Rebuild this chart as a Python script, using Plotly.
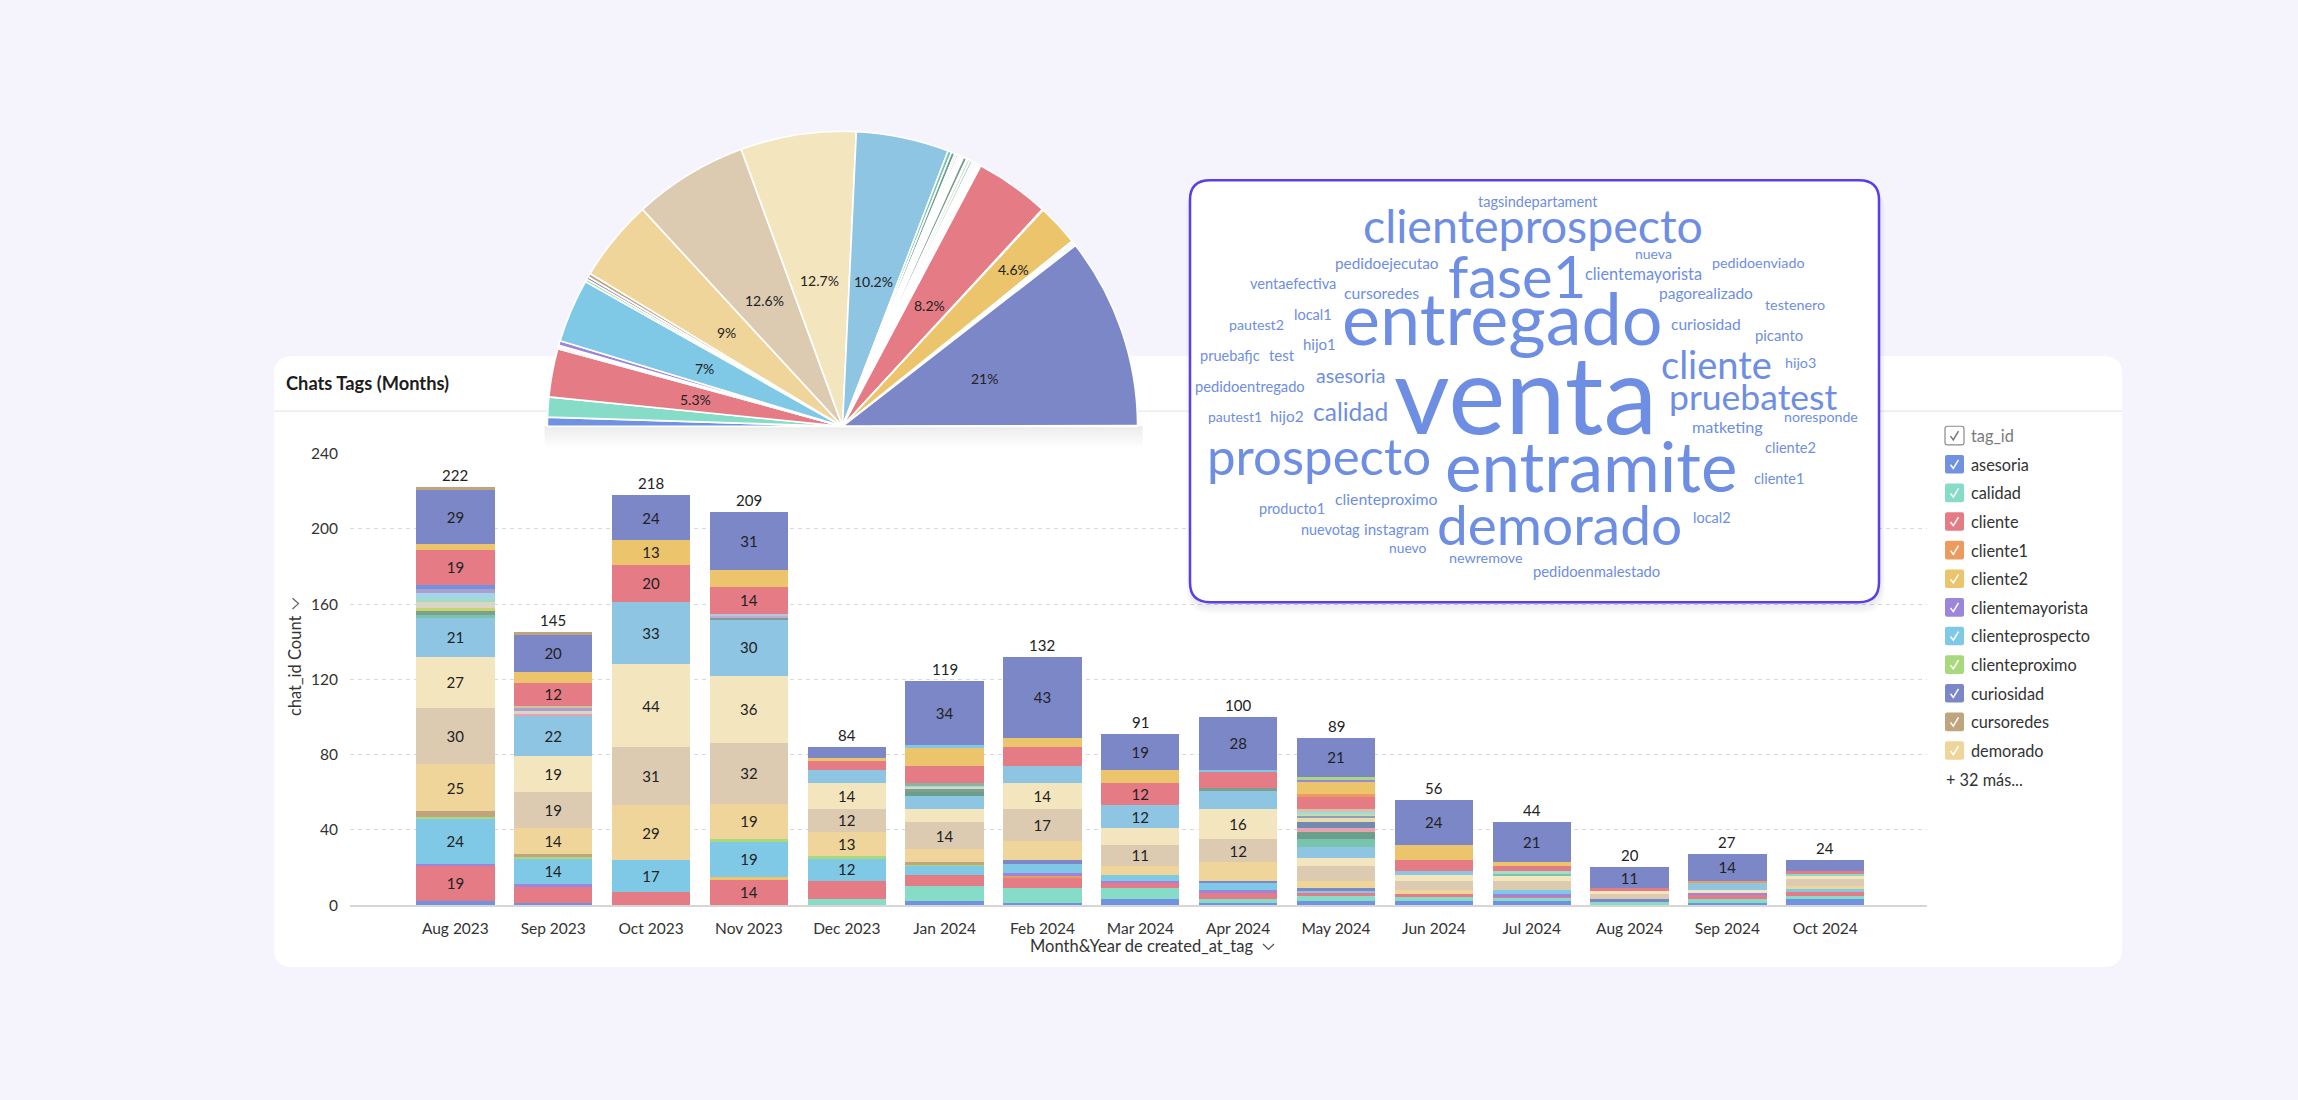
import math
import plotly.graph_objects as go

W, H = 2298, 1100
def X(px): return px / W
def Y(py): return 1 - py / H

FONT = "Lato, 'Open Sans', sans-serif"

# ---------------- DATA ----------------
months = ["Aug 2023", "Sep 2023", "Oct 2023", "Nov 2023", "Dec 2023", "Jan 2024", "Feb 2024",
          "Mar 2024", "Apr 2024", "May 2024", "Jun 2024", "Jul 2024", "Aug 2024", "Sep 2024", "Oct 2024"]

asesoria          = [2, 1, 0, 0, 0, 2, 1, 3, 1, 2, 2, 2, 0, 1, 3]
calidad           = [0, 0, 0, 0, 3, 8, 8, 6, 2, 3, 3, 2, 2, 2, 2]
cliente           = [19, 9, 7, 14, 10, 6, 6, 3, 4, 2, 1, 1, 0, 3, 2]
cliente1          = [0, 0, 0, 0, 0, 0, 1, 0, 0, 0, 0, 0, 0, 0, 0]
cliente2          = [0, 0, 0, 1, 0, 0, 0, 0, 0, 0, 0, 0, 0, 0, 0]
clientemayorista  = [1, 1, 0, 0, 0, 0, 1, 1, 1, 0, 0, 1, 0, 1, 0]
clienteprospecto  = [24, 14, 17, 19, 12, 5, 5, 3, 4, 1, 0, 2, 0, 0, 2]
clienteproximo    = [1, 1, 0, 1, 1, 1, 0, 0, 0, 0, 0, 0, 0, 0, 0]
curiosidad        = [0, 0, 0, 0, 0, 0, 2, 0, 1, 1, 0, 0, 1, 0, 0]
cursoredes        = [3, 1, 0, 0, 0, 1, 0, 0, 0, 0, 0, 0, 0, 0, 0]
demorado          = [25, 14, 29, 19, 13, 7, 10, 5, 10, 4, 2, 0, 0, 0, 1]
entramite         = [30, 19, 31, 32, 12, 14, 17, 11, 12, 8, 5, 5, 3, 0, 4]
entregado         = [27, 19, 44, 36, 14, 7, 14, 9, 16, 4, 3, 3, 2, 1, 2]
fase1             = [21, 22, 33, 30, 7, 7, 9, 12, 10, 6, 2, 0, 0, 4, 0]
hijo1             = [1, 0, 0, 0, 0, 0, 0, 0, 0, 4, 0, 1, 0, 0, 0]
hijo2             = [0, 0, 0, 0, 0, 2, 0, 0, 0, 4, 0, 0, 0, 0, 0]
hijo3             = [0, 1, 0, 0, 0, 0, 0, 0, 0, 2, 0, 0, 0, 0, 0]
instagram         = [0, 0, 0, 0, 0, 0, 0, 0, 0, 3, 0, 0, 0, 0, 0]
local1            = [0, 0, 0, 0, 0, 0, 0, 0, 0, 3, 0, 0, 0, 0, 0]
local2            = [0, 0, 0, 0, 0, 0, 0, 0, 0, 1, 0, 0, 0, 0, 0]
matketing         = [0, 0, 0, 0, 0, 0, 0, 0, 0, 1, 0, 0, 0, 0, 0]
newremove         = [0, 0, 0, 0, 0, 0, 0, 0, 0, 1, 0, 0, 0, 0, 0]
noresponde        = [0, 0, 0, 0, 0, 0, 0, 0, 0, 1, 0, 0, 0, 0, 0]
nueva             = [3, 0, 0, 1, 0, 2, 0, 0, 1, 0, 0, 0, 0, 0, 0]
nuevo             = [1, 0, 0, 0, 0, 0, 0, 0, 0, 0, 0, 0, 0, 0, 0]
nuevotag          = [3, 1, 0, 0, 0, 1, 0, 0, 0, 0, 0, 0, 0, 0, 0]
pagorealizado     = [2, 0, 0, 0, 0, 1, 0, 0, 0, 0, 0, 1, 0, 0, 0]
pautest1          = [3, 0, 0, 0, 0, 0, 0, 0, 0, 0, 0, 0, 0, 0, 0]
pautest2          = [2, 2, 0, 0, 0, 0, 0, 0, 0, 0, 0, 0, 0, 0, 0]
pedidoejecutao    = [0, 0, 0, 1, 0, 0, 0, 0, 0, 0, 0, 0, 0, 0, 0]
pedidoentregado   = [0, 0, 0, 0, 0, 1, 0, 0, 0, 0, 0, 0, 0, 0, 0]
pedidoenmalestado = [0, 1, 0, 0, 0, 0, 0, 0, 0, 0, 0, 0, 0, 0, 0]
pedidoenviado     = [0, 0, 0, 1, 0, 0, 0, 0, 0, 0, 0, 0, 0, 0, 0]
picanto           = [2, 0, 0, 0, 0, 0, 0, 0, 0, 0, 0, 0, 0, 0, 0]
producto1         = [0, 0, 0, 0, 0, 0, 0, 0, 0, 0, 0, 0, 0, 0, 1]
prospecto         = [19, 12, 20, 14, 5, 9, 10, 12, 9, 7, 6, 3, 1, 0, 1]
pruebafjc         = [0, 0, 0, 0, 0, 0, 0, 0, 0, 1, 0, 0, 0, 1, 0]
pruebatest        = [3, 6, 13, 9, 1, 10, 5, 7, 0, 7, 8, 2, 0, 0, 0]
tagsindepartament = [0, 0, 0, 0, 0, 0, 0, 0, 0, 1, 0, 0, 0, 0, 0]
test              = [0, 0, 0, 0, 0, 1, 0, 0, 1, 0, 0, 0, 0, 0, 0]
testenero         = [0, 0, 0, 0, 0, 0, 0, 0, 0, 1, 0, 0, 0, 0, 0]
venta             = [29, 20, 24, 31, 6, 34, 43, 19, 28, 21, 24, 21, 11, 14, 6]
ventaefectiva     = [1, 1, 0, 0, 0, 0, 0, 0, 0, 0, 0, 0, 0, 0, 0]

tags = ["asesoria", "calidad", "cliente", "cliente1", "cliente2", "clientemayorista", "clienteprospecto",
        "clienteproximo", "curiosidad", "cursoredes", "demorado", "entramite", "entregado", "fase1",
        "hijo1", "hijo2", "hijo3", "instagram", "local1", "local2", "matketing", "newremove", "noresponde",
        "nueva", "nuevo", "nuevotag", "pagorealizado", "pautest1", "pautest2", "pedidoejecutao",
        "pedidoentregado", "pedidoenmalestado", "pedidoenviado", "picanto", "producto1", "prospecto",
        "pruebafjc", "pruebatest", "tagsindepartament", "test", "testenero", "venta", "ventaefectiva"]
series = [asesoria, calidad, cliente, cliente1, cliente2, clientemayorista, clienteprospecto,
          clienteproximo, curiosidad, cursoredes, demorado, entramite, entregado, fase1,
          hijo1, hijo2, hijo3, instagram, local1, local2, matketing, newremove, noresponde,
          nueva, nuevo, nuevotag, pagorealizado, pautest1, pautest2, pedidoejecutao,
          pedidoentregado, pedidoenmalestado, pedidoenviado, picanto, producto1, prospecto,
          pruebafjc, pruebatest, tagsindepartament, test, testenero, venta, ventaefectiva]

# pie shares (percent) in the same tag order
pie_pct = [1.0, 2.2, 5.3, 0.2, 0.2, 0.5, 7.0, 0.3, 0.3, 0.4, 9.0, 12.6, 12.7, 10.2,
           0.4, 0.4, 0.2, 0.2, 0.2, 0.1, 0.1, 0.1, 0.1, 0.4, 0.1, 0.3, 0.3, 0.2, 0.2, 0.1,
           0.1, 0.1, 0.1, 0.1, 0.1, 8.2, 0.1, 4.6, 0.2, 0.2, 0.2, 21.0, 0.1]

wc_words = ["tagsindepartament", "clienteprospecto", "nueva", "pedidoejecutao", "fase1", "clientemayorista",
            "pedidoenviado", "ventaefectiva", "cursoredes", "pagorealizado", "testenero", "local1", "pautest2",
            "entregado", "curiosidad", "picanto", "hijo1", "pruebafjc", "test", "cliente", "hijo3", "asesoria",
            "pedidoentregado", "venta", "pruebatest", "pautest1", "hijo2", "calidad", "noresponde", "matketing",
            "prospecto", "entramite", "cliente2", "cliente1", "clienteproximo", "producto1", "local2",
            "nuevotag", "instagram", "demorado", "nuevo", "newremove", "pedidoenmalestado"]

# ---------------- STYLE / LAYOUT ----------------
tag_colors = {
    "asesoria": "#7092e0", "calidad": "#86dcc6", "cliente": "#e57c85", "cliente1": "#ec9b5f",
    "cliente2": "#ecc46b", "clientemayorista": "#9c86dc", "clienteprospecto": "#7fc9e7",
    "clienteproximo": "#a9d97d", "curiosidad": "#7c87c8", "cursoredes": "#c0a47e", "demorado": "#efd59a",
    "entramite": "#dccab1", "entregado": "#f3e6be", "fase1": "#8dc5e2", "hijo1": "#79c4ad",
    "hijo2": "#6a9f8b", "hijo3": "#e6a2ae", "instagram": "#7189b3", "local1": "#e9dca9",
    "local2": "#8e9ec1", "matketing": "#bfdfa5", "newremove": "#a9d5ea", "noresponde": "#d6c3a3",
    "nueva": "#7b9f90", "nuevo": "#c6d66b", "nuevotag": "#dad5c5", "pagorealizado": "#a3dbc9",
    "pautest1": "#a6d3ec", "pautest2": "#ab9fce", "pedidoejecutao": "#c7a9d9", "pedidoentregado": "#88b2a1",
    "pedidoenmalestado": "#d2c39b", "pedidoenviado": "#b1c9da", "picanto": "#7092e0", "producto1": "#86dcc6",
    "prospecto": "#e57c85", "pruebafjc": "#ec9b5f", "pruebatest": "#ecc46b", "tagsindepartament": "#9c86dc",
    "test": "#7fc9e7", "testenero": "#a9d97d", "venta": "#7c87c8", "ventaefectiva": "#c0a47e",
}

# word cloud placement: (center x px, x-height centre y px, font size)
wc_place = [(1538, 197, 14.5), (1533, 225, 46.5), (1653, 249, 14), (1387, 259, 15.3), (1517, 278, 58),
            (1643, 270, 16.3), (1758, 259, 14.3), (1293, 280, 14.6), (1381, 290, 15.7), (1706, 290, 15.5),
            (1795, 301, 14.3), (1313, 312, 14.5), (1256, 322, 14.2), (1502, 322, 72), (1706, 321, 15.5),
            (1779, 332, 14.8), (1319, 342, 15), (1230, 353, 14.5), (1282, 353, 15), (1716, 365, 38),
            (1800, 360, 14.3), (1350, 374, 19.5), (1250, 384.5, 14.7), (1526, 403, 108), (1753, 398, 35.5),
            (1235, 415, 14), (1287, 415, 15.4), (1350, 411, 24.5), (1821, 415, 14.2), (1727, 426, 16.2),
            (1319, 460, 51), (1591, 472, 69), (1790, 447, 14.6), (1779, 478, 14.4), (1386.5, 499, 15.8),
            (1292, 509, 14.5), (1711.5, 518, 14.5), (1330, 530, 14.4), (1397, 530, 15.2), (1559, 530, 55),
            (1407.5, 548, 13.8), (1486, 559, 14.3), (1596, 572, 14.8)]
WC_COLOR = "#6d8ee2"

PCX, PCY, PR = 842.5, 423.3, 300.0
pie_label_r = {"pruebatest": 0.78}


def rrect(x0, y0, x1, y1, r):
    return (f"M {X(x0 + r)},{Y(y0)} L {X(x1 - r)},{Y(y0)} Q {X(x1)},{Y(y0)} {X(x1)},{Y(y0 + r)} "
            f"L {X(x1)},{Y(y1 - r)} Q {X(x1)},{Y(y1)} {X(x1 - r)},{Y(y1)} L {X(x0 + r)},{Y(y1)} "
            f"Q {X(x0)},{Y(y1)} {X(x0)},{Y(y1 - r)} L {X(x0)},{Y(y0 + r)} Q {X(x0)},{Y(y0)} {X(x0 + r)},{Y(y0)} Z")


fig = go.Figure()

# stacked bars
for name, vals in zip(tags, series):
    fig.add_trace(go.Bar(
        x=months, y=vals, name=name,
        marker=dict(color=tag_colors[name], line=dict(width=0)),
        text=[str(v) if v >= 11 else "" for v in vals],
        textposition="inside", insidetextanchor="middle", textangle=0, constraintext="none",
        textfont=dict(family=FONT, size=15, color="#222"),
        showlegend=False, hoverinfo="skip"))

totals = [sum(col) for col in zip(*series)]

# semicircle pie (second half is an invisible slice)
pie_total = sum(pie_pct)
fig.add_trace(go.Pie(
    labels=tags + [" "], values=pie_pct + [pie_total], sort=False,
    direction="clockwise", rotation=-90,
    marker=dict(colors=[tag_colors[t] for t in tags] + ["rgba(0,0,0,0)"],
                line=dict(color=["#ffffff"] * len(tags) + ["rgba(0,0,0,0)"], width=1.6)),
    textinfo="none", hoverinfo="skip", showlegend=False,
    domain=dict(x=[X(PCX - PR), X(PCX + PR)], y=[Y(PCY + PR), Y(PCY - PR)])))

ann = []
shapes = []

# totals on bars
for m, t in zip(months, totals):
    ann.append(dict(x=m, y=t, xref="x", yref="y", text=str(t), showarrow=False, yanchor="bottom",
                    yshift=1, font=dict(family=FONT, size=15, color="#222")))

# pie percentage labels
cum = 0.0
for t, v in zip(tags, pie_pct):
    a0 = cum / pie_total * 180.0
    cum += v
    a1 = cum / pie_total * 180.0
    if v >= 4.5:
        th = math.radians(180.0 - (a0 + a1) / 2.0)
        rf = pie_label_r.get(t, 0.5)
        px = PCX + rf * PR * math.cos(th)
        py = PCY - rf * PR * math.sin(th)
        ann.append(dict(x=X(px), y=Y(py), xref="paper", yref="paper", text=f"{v:g}%", showarrow=False,
                        xanchor="center", yanchor="middle", font=dict(family=FONT, size=14, color="#222")))

# background card
shapes.append(dict(type="path", path=rrect(274, 352, 2122, 973, 18), xref="paper", yref="paper",
                   fillcolor="#ffffff", line=dict(width=0), layer="below"))
shapes.append(dict(type="line", x0=X(274), x1=X(2122), y0=Y(408), y1=Y(408), xref="paper", yref="paper",
                   line=dict(color="#ececec", width=1.5), layer="below"))
# pie shadow
for k in range(1, 10):
    shapes.append(dict(type="rect", x0=X(PCX - PR + 2), x1=X(PCX + PR), y0=Y(PCY), y1=Y(PCY + 2.4 * k),
                       xref="paper", yref="paper", fillcolor="rgba(60,60,90,0.010)", line=dict(width=0),
                       layer="below"))

# word cloud box
for k in range(1, 7):
    shapes.append(dict(type="path", path=rrect(1190 - k + 2, 173 + k, 1879 + k, 602 + 2 * k, 20 + k),
                       xref="paper", yref="paper", fillcolor="rgba(40,40,90,0.018)", line=dict(width=0),
                       layer="above"))
shapes.append(dict(type="path", path=rrect(1190, 173, 1879, 602, 20), xref="paper", yref="paper",
                   fillcolor="#ffffff", line=dict(color="#5a3fe5", width=2.5), layer="above"))

for w, (cx, cy, sz) in zip(wc_words, wc_place):
    ann.append(dict(x=X(cx), y=Y(cy - 0.134 * sz), xref="paper", yref="paper", text=w, showarrow=False,
                    xanchor="center", yanchor="middle", font=dict(family=FONT, size=sz, color=WC_COLOR)))

# title
ann.append(dict(x=X(284), y=Y(379), xref="paper", yref="paper", text="<b>Chats Tags (Months)</b>",
                showarrow=False, xanchor="left", yanchor="middle",
                font=dict(family=FONT, size=18.3, color="#1d1d1d")))
# axis titles
ann.append(dict(x=X(1141), y=Y(952), xref="paper", yref="paper", text="Month&Year de created_at_tag",
                showarrow=False, xanchor="center", yanchor="middle", font=dict(family=FONT, size=16.5, color="#333")))
ann.append(dict(x=X(295), y=Y(667), xref="paper", yref="paper", text="chat_id Count", textangle=-90,
                showarrow=False, xanchor="center", yanchor="middle", font=dict(family=FONT, size=16.5, color="#333")))
shapes.append(dict(type="path", path=f"M {X(1263)},{Y(949.5)} L {X(1268.5)},{Y(955)} L {X(1274)},{Y(949.5)}",
                   xref="paper", yref="paper", line=dict(color="#555", width=1.3), layer="above"))
shapes.append(dict(type="path", path=f"M {X(292.5)},{Y(598)} L {X(298.5)},{Y(603.5)} L {X(292.5)},{Y(609)}",
                   xref="paper", yref="paper", line=dict(color="#666", width=1.3), layer="above"))

# custom legend
LX, LY0, STEP, BOX = 1945, 432.7, 29.1, 19


def check(bx, by, color):
    return dict(type="path",
                path=f"M {X(bx + 5.5)},{Y(by + 10)} L {X(bx + 8.3)},{Y(by + 13.8)} L {X(bx + 13.5)},{Y(by + 5)}",
                xref="paper", yref="paper", line=dict(color=color, width=1.5), layer="above")


by = LY0 - BOX / 2
shapes.append(dict(type="path", path=rrect(LX, by, LX + BOX, by + BOX, 2.5), xref="paper", yref="paper",
                   fillcolor="#ffffff", line=dict(color="#8a8a8a", width=1.2), layer="above"))
shapes.append(check(LX, by, "#777"))
ann.append(dict(x=X(1969), y=Y(LY0), xref="paper", yref="paper", text="tag_id", showarrow=False,
                xanchor="left", yanchor="middle", font=dict(family=FONT, size=16.3, color="#7a7a7a")))
for i, t in enumerate(tags[:11]):
    yc = LY0 + (i + 1) * STEP
    by = yc - BOX / 2
    shapes.append(dict(type="path", path=rrect(LX, by, LX + BOX, by + BOX, 2), xref="paper", yref="paper",
                       fillcolor=tag_colors[t], line=dict(width=0), layer="above"))
    shapes.append(check(LX, by, "#ffffff"))
    ann.append(dict(x=X(1969), y=Y(yc), xref="paper", yref="paper", text=t, showarrow=False,
                    xanchor="left", yanchor="middle", font=dict(family=FONT, size=16.3, color="#333")))
ann.append(dict(x=X(LX - 1), y=Y(LY0 + 12 * STEP), xref="paper", yref="paper", text=f"+ {len(tags) - 11} más...",
                showarrow=False, xanchor="left", yanchor="middle", font=dict(family=FONT, size=16.3, color="#333")))

fig.update_layout(
    width=W, height=H, autosize=False, margin=dict(l=0, r=0, t=0, b=0),
    paper_bgcolor="#f5f4fc", plot_bgcolor="rgba(0,0,0,0)",
    barmode="stack", bargap=0.2, showlegend=False,
    font=dict(family=FONT, color="#333"),
    uniformtext=dict(minsize=15, mode="show"),
    xaxis=dict(domain=[X(350), X(1927)], type="category", categoryorder="array", categoryarray=months,
               range=[-1.077, 15.04], showgrid=False, zeroline=False, showline=True, linecolor="#d6d6d6",
               linewidth=2, ticks="outside", ticklen=8, tickcolor="rgba(0,0,0,0)",
               tickfont=dict(family=FONT, size=15.5, color="#333"), fixedrange=True),
    yaxis=dict(domain=[Y(910), Y(451)], range=[0, 240], tickvals=[0, 40, 80, 120, 160, 200, 240],
               showgrid=True, gridcolor="#d9d9d9", griddash="4px,4px", gridwidth=1, zeroline=False,
               showline=False, ticks="outside", ticklen=8, tickcolor="rgba(0,0,0,0)",
               tickfont=dict(family=FONT, size=15.5, color="#333"), fixedrange=True),
    annotations=ann, shapes=shapes,
)

fig.write_html("out.html", config={"displayModeBar": False},
               post_script="document.body.style.margin='0';document.body.style.padding='0';"
                           "document.documentElement.style.margin='0';document.body.style.overflow='hidden';")
